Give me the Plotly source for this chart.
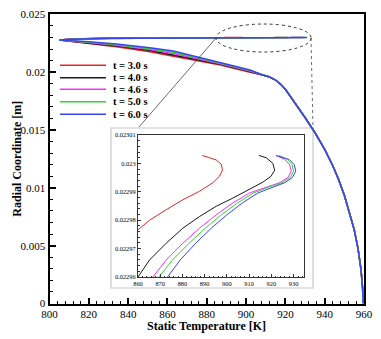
import plotly.graph_objects as go

labels = ["t = 3.0 s", "t = 4.0 s", "t = 4.6 s", "t = 5.0 s", "t = 6.0 s"]
colors = ["#e3262b", "#1a1a1a", "#ff2cff", "#2fd62f", "#3a45f2"]

# part of the profile shared by all times (from the axis r=0 up to the knee)
core_T = [959.6, 959.3, 958.5, 957.0, 955.0, 952.5, 950.0, 947.0, 944.0, 940.0, 935.0, 930.0,
          925.0, 922.5, 920.0, 917.5, 915.0, 912.0, 908.0]
core_R = [0.0, 0.0013, 0.0029, 0.0047, 0.0064, 0.0080, 0.00935, 0.01075, 0.01195, 0.01333, 0.01478, 0.01608,
          0.01735, 0.01797, 0.01852, 0.01897, 0.01932, 0.01958, 0.01978]

# lower branch (knee -> tip)
low_T = [902.0, 887.0, 863.0, 851.0, 834.0, 820.0, 805.0]
low_R = [
    [0.01999, 0.02062, 0.02137, 0.02177, 0.02220, 0.02249, 0.02278],
    [0.02005, 0.02068, 0.02151, 0.02187, 0.02227, 0.02253, 0.02278],
    [0.02010, 0.02073, 0.02162, 0.02195, 0.02233, 0.02256, 0.02278],
    [0.02014, 0.02077, 0.02171, 0.02202, 0.02237, 0.02259, 0.02278],
    [0.02019, 0.02082, 0.02182, 0.02210, 0.02243, 0.02262, 0.02278],
]

# upper branch (tip -> hook near r = 0.023)
up_T = [
    [812, 820, 830, 845, 860, 865.2, 872.7, 880.2, 887.7, 893.7, 896.7, 898.0, 897.5, 895.2, 892.2, 888.9],
    [812, 820, 830, 845, 860, 865.2, 872.7, 880.2, 887.7, 895.2, 902.7, 910.2, 916.2, 919.9, 921.5, 920.7, 917.7, 914.4],
    [812, 820, 830, 845, 860, 866.7, 872.7, 880.2, 887.7, 895.2, 902.7, 910.2, 917.7, 923.7, 927.5, 929.0, 928.2, 926.0, 922.2],
    [812, 820, 830, 845, 860, 869.4, 875.5, 883.0, 890.3, 897.5, 904.8, 912.0, 919.0, 924.8, 928.5, 930.0, 929.3, 927.2, 923.5],
    [812, 820, 830, 845, 860, 873.5, 879.0, 886.0, 893.0, 900.0, 907.0, 914.0, 920.5, 926.0, 929.5, 931.0, 930.3, 928.0, 922.0],
]
up_R = [
    [0.02287, 0.022925, 0.022948, 0.022965, 0.0229766, 0.02298, 0.0229837, 0.0229872, 0.0229902,
     0.0229932, 0.0229955, 0.0229976, 0.0229997, 0.0230012, 0.023002, 0.0230028],
    [0.02286, 0.02291, 0.022925, 0.022944, 0.02296, 0.022966, 0.0229719, 0.0229772, 0.0229813,
     0.0229849, 0.0229878, 0.0229908, 0.0229934, 0.0229955, 0.0229976, 0.023, 0.023002, 0.0230028],
    [0.02286, 0.0229, 0.02292, 0.02294, 0.022953, 0.02296, 0.022966, 0.0229719, 0.0229772, 0.0229819,
     0.0229861, 0.0229896, 0.0229917, 0.0229932, 0.022995, 0.0229973, 0.0229996, 0.0230014, 0.0230028],
    [0.02285, 0.0229, 0.022915, 0.022935, 0.02295, 0.02296, 0.022966, 0.0229719, 0.0229772, 0.0229819,
     0.0229861, 0.0229896, 0.0229917, 0.0229932, 0.022995, 0.0229973, 0.0229996, 0.0230014, 0.0230028],
    [0.02285, 0.02289, 0.02291, 0.02293, 0.022946, 0.02296, 0.022966, 0.0229719, 0.0229772, 0.0229819,
     0.0229861, 0.0229896, 0.0229917, 0.0229932, 0.022995, 0.0229973, 0.0229996, 0.0230014, 0.0230028],
]

# the page body has an 8px margin, so the figure is 8px smaller and everything is offset
OFF = 8
W, H = 381 - OFF, 339 - OFF
def px(x):
    return (x - OFF) / W
def py(y):
    return (H - (y - OFF)) / H

fig = go.Figure()

for i in range(len(labels)):
    T = core_T + low_T + up_T[i]
    R = core_R + low_R[i] + up_R[i]
    fig.add_trace(go.Scatter(x=T, y=R, mode="lines", name=labels[i],
                             line=dict(color=colors[i], width=1.5), showlegend=False))
    fig.add_trace(go.Scatter(x=T, y=R, mode="lines", xaxis="x2", yaxis="y2",
                             line=dict(color=colors[i], width=1), showlegend=False))

font = "Liberation Serif"
fig.update_layout(
    template="none",
    width=W, height=H,
    margin=dict(l=0, r=0, t=0, b=0),
    paper_bgcolor="white",
    plot_bgcolor="rgba(0,0,0,0)",
    font=dict(family=font, color="black"),
    xaxis=dict(domain=[px(49.5), px(364)], range=[800, 960], dtick=20, tick0=800, automargin=False,
               ticks="inside", ticklen=6, tickwidth=1.5, showgrid=False, zeroline=False,
               showline=True, linewidth=2, linecolor="black", mirror=True,
               tickfont=dict(size=11), tickcolor="black", ticklabelstandoff=-1,
               minor=dict(dtick=4, ticks="inside", ticklen=3, tickwidth=1, showgrid=False, tickcolor="black")),
    yaxis=dict(domain=[py(303.5), py(14.3)], range=[0, 0.025], dtick=0.005, tick0=0, automargin=False,
               ticks="inside", ticklen=6, tickwidth=1.5, showgrid=False, zeroline=False,
               showline=True, linewidth=2, linecolor="black", mirror=True,
               tickfont=dict(size=11), tickcolor="black",
               minor=dict(dtick=0.001, ticks="inside", ticklen=3, tickwidth=1, showgrid=False, tickcolor="black")),
    xaxis2=dict(domain=[px(138), px(304)], range=[860, 934.7], dtick=10, tick0=860, automargin=False,
                anchor="y2", ticks="inside", ticklen=3, tickwidth=0.8, showgrid=False,
                zeroline=False, showline=True, linewidth=1, linecolor="#333", mirror=True,
                tickfont=dict(size=6.4), tickcolor="#333",
                minor=dict(dtick=2, ticks="inside", ticklen=1.5, tickwidth=0.6, showgrid=False, tickcolor="#333")),
    yaxis2=dict(domain=[py(277), py(135)], range=[0.02296, 0.02301], dtick=0.00001, tick0=0.02296,
                anchor="x2", automargin=False, ticks="inside", ticklen=3, tickwidth=0.8, showgrid=False,
                zeroline=False, showline=True, linewidth=1, linecolor="#333", mirror=True,
                tickfont=dict(size=6.4), tickcolor="#333",
                minor=dict(dtick=0.000002, ticks="inside", ticklen=1.5, tickwidth=0.6, showgrid=False, tickcolor="#333")),
)

shapes = [
    # inset frame
    dict(type="rect", xref="paper", yref="paper", x0=px(111), x1=px(313), y0=py(288), y1=py(128),
         line=dict(color="#c8c8c8", width=1.2), fillcolor="white", layer="below"),
    # zoom ellipse
    dict(type="circle", xref="x", yref="y", x0=884.7, x1=933.1, y0=0.02174, y1=0.02416,
         line=dict(color="#333", width=1, dash="dot")),
    dict(type="line", xref="paper", yref="paper", x0=px(216), y0=py(38), x1=px(139), y1=py(127),
         line=dict(color="#444", width=0.8)),
    dict(type="line", xref="paper", yref="paper", x0=px(311), y0=py(38), x1=px(313), y1=py(128),
         line=dict(color="#444", width=0.8, dash="dot")),
]

annotations = [
    dict(text="<b>Static Temperature [K]</b>", xref="paper", yref="paper", x=px(206.7), y=py(326),
         showarrow=False, xanchor="center", yanchor="middle", font=dict(size=12)),
    dict(text="<b>Radial Coordinate [m]</b>", xref="paper", yref="paper", x=px(16.7), y=py(159),
         showarrow=False, xanchor="center", yanchor="middle", textangle=-90, font=dict(size=12)),
]

# legend drawn by hand (tight rows, no box)
rows = [65.3, 77.7, 89.3, 101.7, 114.3]
for i in range(len(labels)):
    shapes.append(dict(type="line", xref="paper", yref="paper", x0=px(60), x1=px(106),
                       y0=py(rows[i]), y1=py(rows[i]), line=dict(color=colors[i], width=1.5)))
    annotations.append(dict(text="<b>" + labels[i] + "</b>", xref="paper", yref="paper",
                            x=px(111), y=py(rows[i]), showarrow=False, xanchor="left",
                            yanchor="middle", font=dict(size=10.5)))

fig.update_layout(shapes=shapes, annotations=annotations)

fig.write_html("out.html")
